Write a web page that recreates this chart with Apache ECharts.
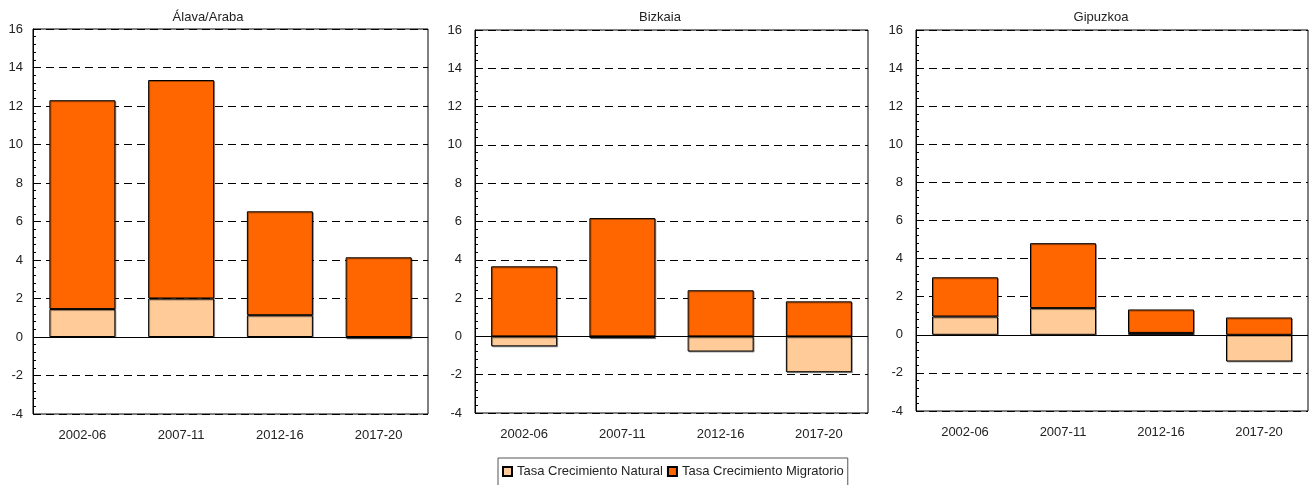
<!DOCTYPE html>
<html>
<head>
<meta charset="utf-8">
<script src="https://cdn.jsdelivr.net/npm/echarts@6/dist/echarts.min.js"></script>
<style>
  html, body { margin: 0; padding: 0; background: #fff; }
  #chart { width: 1309px; height: 485px; }
</style>
</head>
<body>
<div id="chart"></div>
<script>
// periods on the x axis
const categories = ['2002-06', '2007-11', '2012-16', '2017-20']
const panelTitles = ['Álava/Araba', 'Bizkaia', 'Gipuzkoa']
const seriesNames = ['Tasa Crecimiento Natural', 'Tasa Crecimiento Migratorio']

// rates per territory
const alavaNatural = [1.45, 2.0, 1.13, -0.07]
const alavaMigratorio = [10.85, 11.35, 5.4, 4.14]
const bizkaiaNatural = [-0.52, -0.09, -0.79, -1.87]
const bizkaiaMigratorio = [3.66, 6.18, 2.41, 1.83]
const gipuzkoaNatural = [0.96, 1.4, 0.1, -1.4]
const gipuzkoaMigratorio = [2.06, 3.41, 1.23, 0.91]

const yTicks = [-4, 16, 2] // min, max, interval

const naturalData = [alavaNatural, bizkaiaNatural, gipuzkoaNatural]
const migratorioData = [alavaMigratorio, bizkaiaMigratorio, gipuzkoaMigratorio]

const font = "'Liberation Sans', Arial, sans-serif"
const colors = ['#FFCC99', '#FF6600']

const grids = [
  { left: 33, top: 29, width: 395, height: 385 },
  { left: 475, top: 30, width: 393, height: 383 },
  { left: 916, top: 30, width: 392, height: 381 }
]
const titleX = [208, 660, 1101]
const labelMargin = [10, 13, 13]

let option = {
  animation: false,
  backgroundColor: '#fff',
  textStyle: { fontFamily: font },
  title: panelTitles.map((t, i) => ({
    text: t,
    left: titleX[i],
    top: 11,
    padding: 0,
    textAlign: 'center',
    textStyle: { fontFamily: font, fontSize: 13, fontWeight: 'normal', color: '#222' }
  })),
  legend: {
    data: seriesNames,
    left: 498,
    top: 458,
    padding: [7, 4, 40, 4],
    itemGap: 4,
    itemWidth: 9,
    itemHeight: 9,
    icon: 'rect',
    borderColor: '#555',
    borderWidth: 1,
    selectedMode: false,
    textStyle: { fontFamily: font, fontSize: 13, color: '#222' }
  },
  grid: grids.map(g => Object.assign({ show: true, borderColor: '#000', borderWidth: 1, backgroundColor: 'transparent' }, g)),
  xAxis: grids.map((g, i) => ({
    type: 'category',
    gridIndex: i,
    data: categories,
    axisLine: { show: false, onZero: false },
    axisTick: { show: false },
    axisLabel: { margin: 15, fontFamily: font, fontSize: 13, color: '#222' },
    splitLine: { show: false }
  })),
  yAxis: grids.map((g, i) => ({
    type: 'value',
    gridIndex: i,
    min: yTicks[0],
    max: yTicks[1],
    interval: yTicks[2],
    axisLine: { show: true, lineStyle: { color: '#000', width: 1 } },
    axisTick: { show: true, inside: true, length: 4, lineStyle: { color: '#000' } },
    minorTick: { show: true, splitNumber: 5, length: 3, lineStyle: { color: '#000' } },
    axisLabel: { margin: labelMargin[i], fontFamily: font, fontSize: 13, color: '#222' },
    splitLine: { show: true, lineStyle: { color: '#000', width: 1, type: [8, 5] } }
  })),
  series: []
}

const barShadow = { shadowColor: 'rgba(0,0,0,0.35)', shadowOffsetX: 1, shadowOffsetY: 1, shadowBlur: 0 }

for (let i = 0; i < 3; i++) {
  option.series.push({
    name: seriesNames[0],
    type: 'bar',
    xAxisIndex: i,
    yAxisIndex: i,
    stack: 'panel' + i,
    barWidth: 66,
    data: naturalData[i],
    itemStyle: Object.assign({ color: colors[0], borderColor: '#000', borderWidth: 1 }, barShadow)
  })
  option.series.push({
    name: seriesNames[1],
    type: 'bar',
    xAxisIndex: i,
    yAxisIndex: i,
    stack: 'panel' + i,
    barWidth: 66,
    data: migratorioData[i],
    itemStyle: Object.assign({ color: colors[1], borderColor: '#000', borderWidth: 1 }, barShadow),
    markLine: {
      silent: true,
      symbol: 'none',
      label: { show: false },
      lineStyle: { color: '#000', width: 1, type: 'solid' },
      data: [{ yAxis: 0 }]
    }
  })
}

let chart = echarts.init(document.getElementById('chart'))
chart.setOption(option)
window.addEventListener('resize', () => chart.resize())
</script>
</body>
</html>
